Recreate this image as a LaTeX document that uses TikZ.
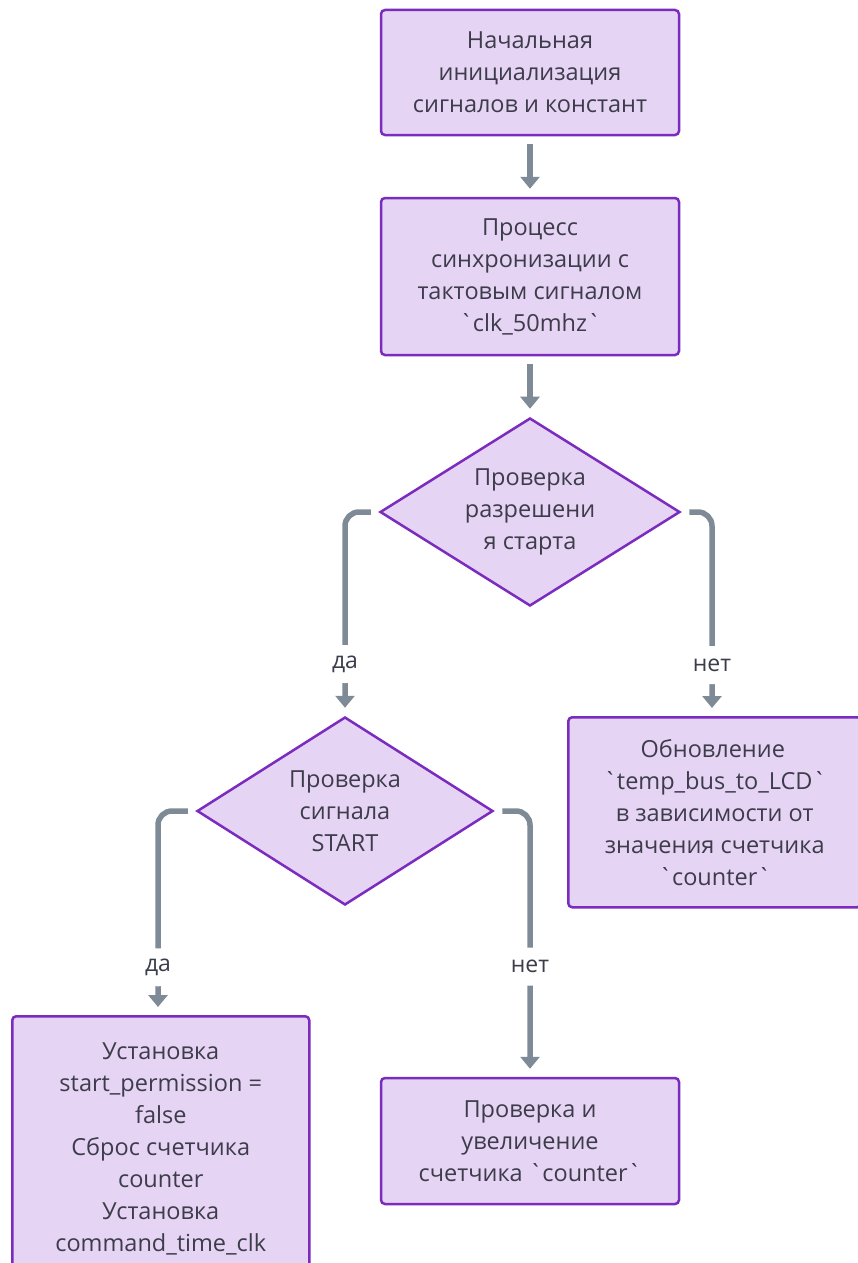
\documentclass[tikz,border=0pt]{standalone}
\usepackage{fontspec}
\newfontfamily\nf{Open Sans}
\usetikzlibrary{shapes.geometric,arrows.meta}
\definecolor{boxfill}{HTML}{E6D4F4}
\definecolor{boxdraw}{HTML}{7B2BBE}
\definecolor{txt}{HTML}{3C3C4A}
\definecolor{conncol}{HTML}{7E8B97}
\tikzset{
  proc/.style={draw=boxdraw, fill=boxfill, line width=2.5pt, rounded corners=4pt,
    align=center, text=txt, font=\nf\fontsize{23.5}{32}\selectfont, inner sep=0pt},
  decision/.style={diamond, draw=boxdraw, fill=boxfill, line width=2.5pt,
    align=center, text=txt, font=\nf\fontsize{23.5}{32}\selectfont, inner sep=0pt,
    minimum width=300pt, minimum height=188pt, aspect=1.6},
  conn/.style={draw=conncol, line width=5.5pt, rounded corners=14pt,
    -{Triangle[width=19pt,length=12pt]}, shorten <=8pt, shorten >=8pt},
  lbl/.style={fill=white, text=txt, font=\nf\fontsize{23}{26}\selectfont,
    inner xsep=2pt, minimum height=38pt}
}
\begin{document}
\begin{tikzpicture}[x=1pt,y=-1pt]
\useasboundingbox[fill=white] (0,0) rectangle (857,1263);

\node[proc, minimum width=298pt, minimum height=125pt] (n1) at (530,72.5)
  {Начальная\\инициализация\\сигналов и констант};
\node[proc, minimum width=298pt, minimum height=157pt] (n2) at (530,276.5)
  {Процесс\\синхронизации с\\тактовым сигналом\\`clk\_50mhz`};
\node[decision] (d1) at (530,512) {Проверка\\разрешени\\я старта};
\node[decision, minimum width=296pt] (d2) at (345,811) {Проверка\\сигнала\\START};
\node[proc, minimum width=293pt, minimum height=190pt, anchor=north west] (n3) at (567,716)
  {\hspace*{-4pt}Обновление\\`temp\_bus\_to\_LCD`\\в зависимости от\\значения счетчика\\`counter`};
\node[proc, minimum width=297pt, minimum height=265pt, anchor=north west] (n4) at (11,1015)
  {Установка\\start\_permission =\\false\\Сброс счетчика\\counter\\Установка\\command\_time\_clk};
\node[proc, minimum width=298pt, minimum height=126pt] (n5) at (530,1141)
  {Проверка и\\увеличение\\счетчика `counter`};

\draw[conn] (n1) -- (n2);
\draw[conn] (n2) -- (d1);
\draw[conn] (d1.west) -| node[lbl, pos=0.873] {да} (d2.north);
\draw[conn] (d1.east) -| node[lbl, pos=0.875] {нет} (n3.north -| 712,0);
\draw[conn] (d2.west) -| node[lbl, pos=0.883] {да} (n4.north -| 158,0);
\draw[conn] (d2.east) -| node[lbl, pos=0.793] {нет} (n5.north);
\end{tikzpicture}
\end{document}
